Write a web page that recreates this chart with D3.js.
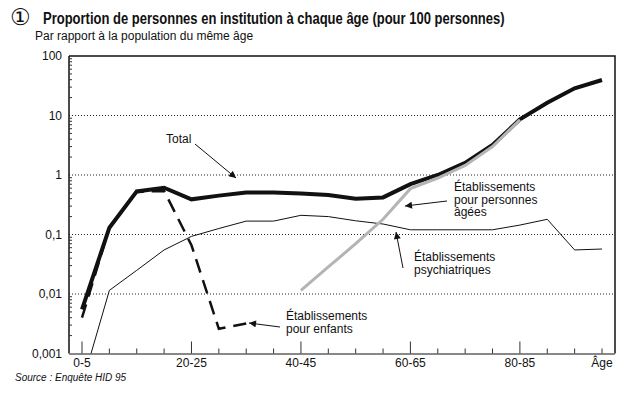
<!DOCTYPE html>
<html>
<head>
<meta charset="utf-8">
<script src="https://cdn.jsdelivr.net/npm/d3@7"></script>
<style>
  body { margin: 0; background: #fff; }
  text { font-family: "Liberation Sans", Arial, sans-serif; fill: #111; }
</style>
</head>
<body>
<script>
'use strict';

// age groups (5-year bands)
const ages = ["0-5", "5-10", "10-15", "15-20", "20-25", "25-30", "30-35", "35-40", "40-45", "45-50",
  "50-55", "55-60", "60-65", "65-70", "70-75", "75-80", "80-85", "85-90", "90-95", "95-100"];

// tick labels shown under the axis
const xTickLabels = { "0-5": "0-5", "20-25": "20-25", "40-45": "40-45", "60-65": "60-65", "80-85": "80-85", "95-100": "Âge" };
const yTicks = [0.001, 0.01, 0.1, 1, 10, 100];
const yTickLabels = ["0,001", "0,01", "0,1", "1", "10", "100"];

// series (per 100 persons of the same age)
const total = [0.0055, 0.13, 0.53, 0.61, 0.39, 0.45, 0.51, 0.51, 0.49, 0.46, 0.40, 0.42, 0.70, 1.0, 1.6, 3.2, 8.6, 16.4, 28.6, 39.5];
const enfants = [0.004, 0.13, 0.52, 0.54, 0.066, 0.0026, 0.0032];
const psychiatriques = [0.0003, 0.0115, 0.025, 0.055, 0.093, 0.126, 0.168, 0.168, 0.21, 0.20, 0.17, 0.15, 0.12, 0.12, 0.12, 0.12, 0.144, 0.18, 0.055, 0.057];
const agees = [null, null, null, null, null, null, null, null, 0.0115, 0.0285, 0.07, 0.18, 0.59, 0.89, 1.45, 3.0, 8.5];

(function() {

  const svg = d3.select('body').append('svg')
    .attr('width', 639)
    .attr('height', 396);

  const pLeft = 69, pRight = 615, pTop = 56, pBottom = 353.5;

  const x = d3.scalePoint().domain(ages).range([82, 602]);
  const y = d3.scaleLog().domain([0.001, 100]).range([pBottom, pTop]);

  // titles
  svg.append('text')
    .attr('x', 10).attr('y', 25)
    .style('font-family', '"DejaVu Sans", sans-serif')
    .style('font-size', '23px')
    .text('①');

  // bold title squeezed horizontally to look like a narrow face
  const titleG = svg.append('g');
  const title = titleG.append('text')
    .attr('x', 0).attr('y', 0)
    .style('font-weight', 'bold')
    .style('font-size', '17px')
    .text('Proportion de personnes en institution à chaque âge (pour 100 personnes)');
  const sx = 462 / title.node().getComputedTextLength();
  titleG.attr('transform', `translate(43,24) scale(${sx},1)`);

  svg.append('text')
    .attr('x', 35).attr('y', 40)
    .style('font-size', '12px')
    .text('Par rapport à la population du même âge');

  // dotted gridlines
  svg.append('g').selectAll('line')
    .data([0.01, 0.1, 1, 10])
    .enter().append('line')
    .attr('x1', pLeft).attr('x2', pRight)
    .attr('y1', d => y(d)).attr('y2', d => y(d))
    .attr('stroke', '#222')
    .attr('stroke-width', 1)
    .attr('stroke-dasharray', '1,2');

  // frame: top and right
  svg.append('path')
    .attr('d', `M${pLeft},${pTop}H${pRight}V${pBottom}`)
    .attr('fill', 'none')
    .attr('stroke', '#111')
    .attr('stroke-width', 1.5);

  // y axis with log minor ticks
  const yAxis = svg.append('g');
  yAxis.append('line')
    .attr('x1', pLeft).attr('x2', pLeft)
    .attr('y1', pTop).attr('y2', pBottom)
    .attr('stroke', '#111').attr('stroke-width', 1.5);

  let minor = [];
  for (let e = -3; e < 2; e++) {
    for (let k = 2; k <= 9; k++) minor.push(k * Math.pow(10, e));
  }
  yAxis.selectAll('.minor')
    .data(minor)
    .enter().append('line')
    .attr('x1', pLeft).attr('x2', pLeft + 3)
    .attr('y1', d => y(d)).attr('y2', d => y(d))
    .attr('stroke', '#333').attr('stroke-width', 1);

  yAxis.selectAll('.lab')
    .data(yTicks)
    .enter().append('text')
    .attr('x', 62)
    .attr('y', d => y(d) + 1)
    .attr('text-anchor', 'end')
    .attr('dominant-baseline', 'middle')
    .style('font-size', '12px')
    .text((d, i) => yTickLabels[i]);

  // x axis
  const xAxis = svg.append('g');
  xAxis.append('line')
    .attr('x1', pLeft).attr('x2', pRight)
    .attr('y1', pBottom + 0.5).attr('y2', pBottom + 0.5)
    .attr('stroke', '#888').attr('stroke-width', 2);

  xAxis.selectAll('.tick')
    .data(ages)
    .enter().append('line')
    .attr('x1', d => x(d)).attr('x2', d => x(d))
    .attr('y1', pBottom)
    .attr('y2', (d, i) => (i % 4 === 0) ? pBottom - 12 : pBottom - 5)
    .attr('stroke', '#333').attr('stroke-width', 1);

  xAxis.selectAll('.lab')
    .data(ages.filter(a => xTickLabels[a]))
    .enter().append('text')
    .attr('x', d => x(d))
    .attr('y', 367)
    .attr('text-anchor', 'middle')
    .style('font-size', '12px')
    .text(d => xTickLabels[d]);

  svg.append('text')
    .attr('x', 15).attr('y', 381)
    .style('font-size', '10px')
    .style('font-style', 'italic')
    .text('Source : Enquête HID 95');

  // lines, clipped to the plot area
  svg.append('clipPath').attr('id', 'plot')
    .append('rect')
    .attr('x', pLeft).attr('y', pTop)
    .attr('width', pRight - pLeft).attr('height', pBottom - pTop);

  const line = d3.line()
    .defined(d => d != null)
    .x((d, i) => x(ages[i]))
    .y(d => y(d));

  const plot = svg.append('g').attr('clip-path', 'url(#plot)');

  plot.append('path')
    .datum(psychiatriques)
    .attr('d', line)
    .attr('fill', 'none')
    .attr('stroke', '#111')
    .attr('stroke-width', 1);

  plot.append('path')
    .datum(enfants)
    .attr('d', line)
    .attr('fill', 'none')
    .attr('stroke', '#111')
    .attr('stroke-width', 2.5)
    .attr('stroke-dasharray', '14,8');

  plot.append('path')
    .datum(total)
    .attr('d', line)
    .attr('fill', 'none')
    .attr('stroke', '#111')
    .attr('stroke-width', 4);

  plot.append('path')
    .datum(agees)
    .attr('d', line)
    .attr('fill', 'none')
    .attr('stroke', '#b4b4b4')
    .attr('stroke-width', 3);

  // arrowhead marker
  svg.append('defs').append('marker')
    .attr('id', 'arrow')
    .attr('viewBox', '0 0 10 10')
    .attr('refX', 10).attr('refY', 5)
    .attr('markerWidth', 9).attr('markerHeight', 7)
    .attr('markerUnits', 'userSpaceOnUse')
    .attr('orient', 'auto')
    .append('path')
    .attr('d', 'M0,0L10,5L0,10z')
    .attr('fill', '#111');

  // annotations
  function label(lines, x0, y0) {
    const t = svg.append('text')
      .attr('x', x0).attr('y', y0)
      .style('font-size', '12px');
    lines.forEach((s, i) => {
      t.append('tspan').attr('x', x0).attr('dy', i ? 12.5 : 0).text(s);
    });
  }

  function arrow(x1, y1, x2, y2) {
    svg.append('line')
      .attr('x1', x1).attr('y1', y1)
      .attr('x2', x2).attr('y2', y2)
      .attr('stroke', '#111').attr('stroke-width', 1)
      .attr('marker-end', 'url(#arrow)');
  }

  label(['Total'], 166, 143);
  arrow(195, 144, 236, 178);

  label(['Établissements', 'pour personnes', 'âgées'], 454, 191);
  arrow(447, 201, 405, 206);

  label(['Établissements', 'psychiatriques'], 414, 261);
  arrow(403, 268, 396, 232);

  label(['Établissements', 'pour enfants'], 286, 320);
  arrow(280, 327, 249, 323);

})();
</script>
</body>
</html>
